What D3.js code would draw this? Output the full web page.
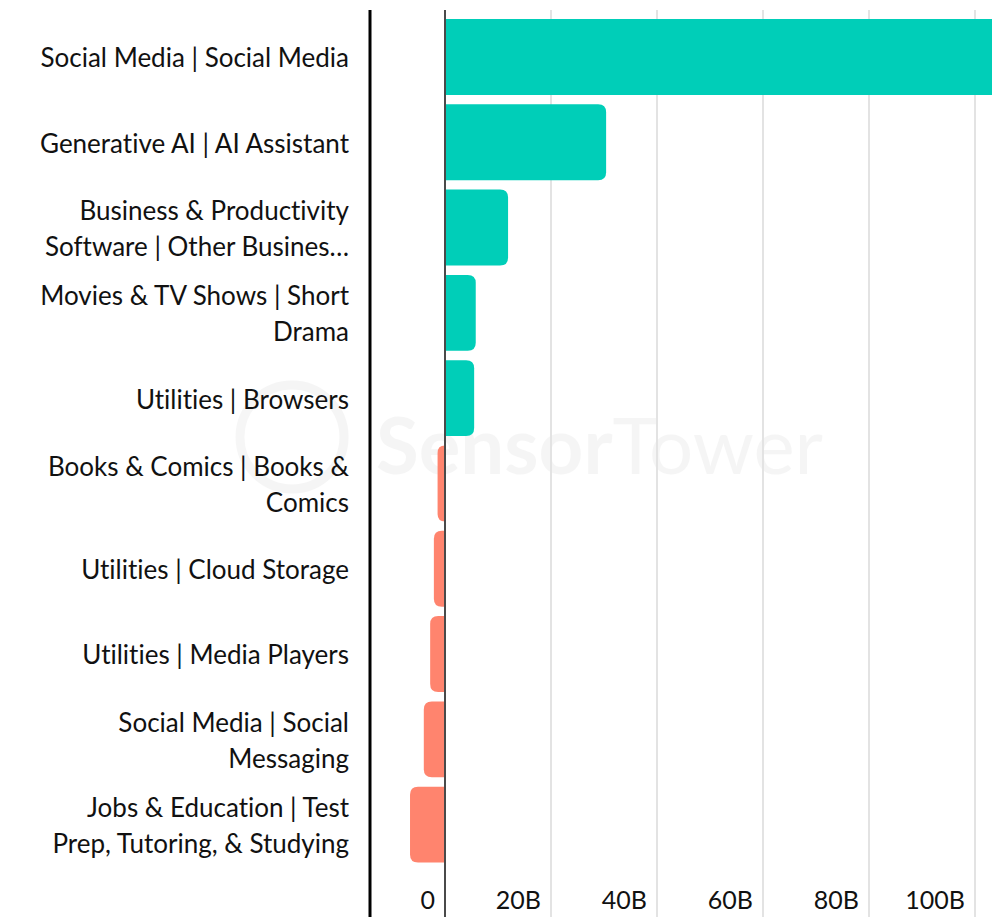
<!DOCTYPE html>
<html><head><meta charset="utf-8">
<script src="https://cdn.jsdelivr.net/npm/d3@7"></script>
<style>
html,body{margin:0;padding:0;background:#fff;overflow:hidden;}
svg{display:block;}
text{font-family:"Lato","Noto Sans",sans-serif;fill:#111;font-variant-ligatures:none;}
</style></head>
<body>
<script>
const categories = [
  ["Social Media | Social Media"],
  ["Generative AI | AI Assistant"],
  ["Business & Productivity", "Software | Other Busines\u2026"],
  ["Movies & TV Shows | Short", "Drama"],
  ["Utilities | Browsers"],
  ["Books & Comics | Books &", "Comics"],
  ["Utilities | Cloud Storage"],
  ["Utilities | Media Players"],
  ["Social Media | Social", "Messaging"],
  ["Jobs & Education | Test", "Prep, Tutoring, & Studying"]
];
const values = [115, 30.4, 11.9, 5.8, 5.5, -1.4, -2.1, -2.8, -4.0, -6.6];
const tickValues = [0, 20, 40, 60, 80, 100];
const tickLabels = ["0", "20B", "40B", "60B", "80B", "100B"];

const W = 992, H = 917;
const svg = d3.select("body").append("svg").attr("width", W).attr("height", H);

const x = d3.scaleLinear().domain([0, 100]).range([445, 975]);
const y = d3.scaleBand().domain(d3.range(categories.length)).range([14.3, 867.3]).paddingInner(0.11).paddingOuter(0.055);

// watermark
const wm = svg.append("g").attr("opacity", 0.035);
wm.append("circle").attr("cx", 292).attr("cy", 437).attr("r", 52).attr("fill", "none").attr("stroke", "#000").attr("stroke-width", 9);
const wt = wm.append("text").attr("x", 376).attr("y", 474).attr("font-size", 78).style("fill", "#000");
wt.append("tspan").attr("font-weight", 700).text("Sensor");
wt.append("tspan").attr("font-weight", 400).text("Tower");

// gridlines
svg.append("g").selectAll("line").data(tickValues.filter(d => d !== 0)).join("line")
  .attr("x1", d => x(d)).attr("x2", d => x(d)).attr("y1", 10).attr("y2", H)
  .attr("stroke", "#e3e3e3").attr("stroke-width", 2);

// bars with rounded outer end
const r = 8;
function barPath(v, i) {
  const y0 = y(i), h = y.bandwidth();
  const x0 = x(0), x1 = x(v);
  const rr = Math.min(r, Math.abs(x1 - x0));
  if (v >= 0) {
    return `M${x0},${y0}H${x1 - rr}Q${x1},${y0} ${x1},${y0 + rr}V${y0 + h - rr}Q${x1},${y0 + h} ${x1 - rr},${y0 + h}H${x0}Z`;
  } else {
    return `M${x0},${y0}H${x1 + rr}Q${x1},${y0} ${x1},${y0 + rr}V${y0 + h - rr}Q${x1},${y0 + h} ${x1 + rr},${y0 + h}H${x0}Z`;
  }
}
svg.append("g").selectAll("path").data(values).join("path")
  .attr("d", (d, i) => barPath(d, i))
  .attr("fill", d => d >= 0 ? "#00CEB8" : "#FF846E");

// zero line
svg.append("line").attr("x1", x(0)).attr("x2", x(0)).attr("y1", 10).attr("y2", H)
  .attr("stroke", "#4a4a4a").attr("stroke-width", 2);

// left axis line
svg.append("line").attr("x1", 370).attr("x2", 370).attr("y1", 10).attr("y2", H)
  .attr("stroke", "#000").attr("stroke-width", 3);

// category labels
const lab = svg.append("g").selectAll("text").data(categories).join("text")
  .attr("text-anchor", "end").attr("font-size", 26);
lab.each(function(lines, i) {
  const c = y(i) + y.bandwidth() / 2;
  const lh = 36;
  const start = c - (lines.length - 1) * lh / 2;
  d3.select(this).selectAll("tspan").data(lines).join("tspan")
    .attr("x", 349).attr("y", (d, j) => start + j * lh).attr("dy", "0.4em").text(d => d);
});

// tick labels
svg.append("g").selectAll("text").data(tickValues).join("text")
  .attr("x", d => x(d) - 10).attr("y", 900).attr("dy", "0.35em")
  .attr("text-anchor", "end").attr("font-size", 25)
  .text((d, i) => tickLabels[i]);
</script>
</body></html>
